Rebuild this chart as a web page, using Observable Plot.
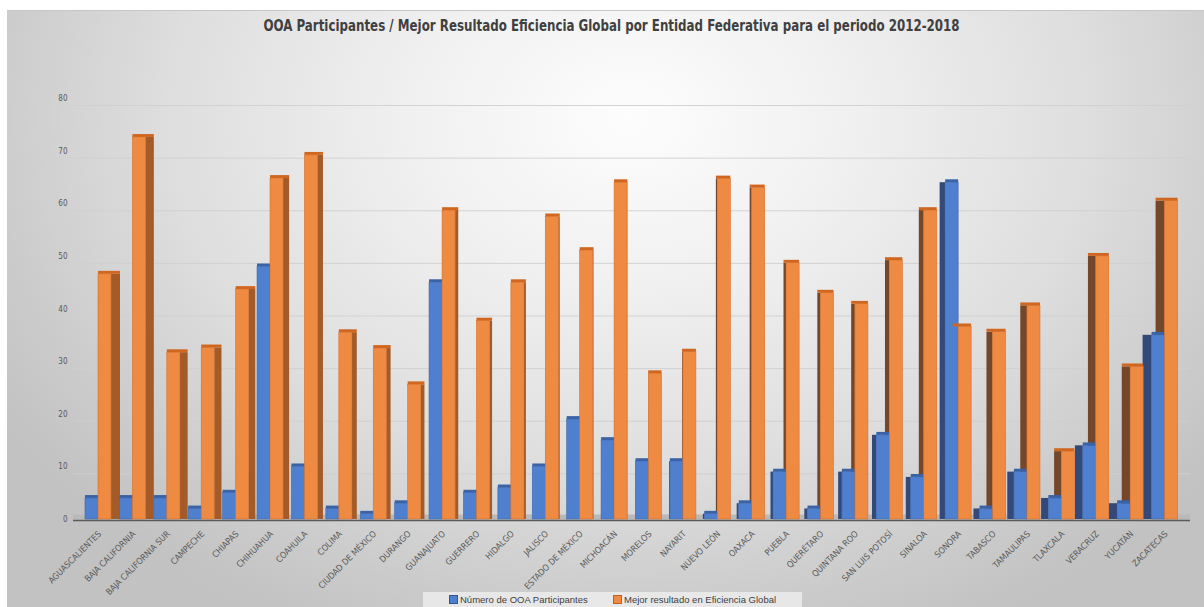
<!DOCTYPE html>
<html>
<head>
<meta charset="utf-8">
<script src="https://cdn.jsdelivr.net/npm/d3@7"></script>
<script src="https://cdn.jsdelivr.net/npm/@observablehq/plot@0.6"></script>
<style>
html, body { margin: 0; padding: 0; background: #fff; }
#wrap { position: relative; width: 1204px; height: 607px; overflow: hidden; background: #fff; }
#panel { position: absolute; left: 7px; top: 10px; width: 1197px; height: 597px; border-top: 1px solid #c6c6c6;
  background: radial-gradient(ellipse 62% 95% at 52% 18%, #fdfdfd 0%, #f0f0f0 30%, #dedede 62%, #cacaca 88%, #c2c2c2 100%); }
#title { position: absolute; left: 0; top: 17px; width: 1224px; text-align: center; }
#title span { display: inline-block; transform: scaleX(0.85); transform-origin: 50% 50%; white-space: nowrap;
  font-family: "DejaVu Sans Condensed", "Liberation Sans", sans-serif; font-weight: bold; font-size: 15.5px; color: #404040; }
#chart { position: absolute; left: 0; top: 60px; }
#legend { position: absolute; left: 423px; top: 592px; width: 379px; height: 15px; background: rgba(236,236,236,0.85);
  font-family: "Liberation Sans", sans-serif; font-size: 9.5px; color: #404040; }
#legend .item { position: absolute; top: 2px; white-space: nowrap; }
#legend .sw { display: inline-block; width: 7px; height: 7px; margin-right: 2px; vertical-align: -0.5px; }
</style>
</head>
<body>
<div id="wrap">
  <div id="panel"></div>
  <div id="title"><span>OOA Participantes / Mejor Resultado Eficiencia Global por Entidad Federativa para el periodo 2012-2018</span></div>
  <div id="chart"></div>
  <div id="legend"></div>
</div>
<script>
const states = ["AGUASCALIENTES","BAJA CALIFORNIA","BAJA CALIFORNIA SUR","CAMPECHE","CHIAPAS","CHIHUAHUA","COAHUILA","COLIMA","CIUDAD DE MÉXICO","DURANGO","GUANAJUATO","GUERRERO","HIDALGO","JALISCO","ESTADO DE MÉXICO","MICHOACÁN","MORELOS","NAYARIT","NUEVO LEÓN","OAXACA","PUEBLA","QUERÉTARO","QUINTANA ROO","SAN LUIS POTOSÍ","SINALOA","SONORA","TABASCO","TAMAULIPAS","TLAXCALA","VERACRUZ","YUCATÁN","ZACATECAS"];
const participantes = [4, 4, 4, 2, 5, 48, 10, 2, 1, 3, 45, 5, 6, 10, 19, 15, 11, 11, 1, 3, 9, 2, 9, 16, 8, 64, 2, 9, 4, 14, 3, 35];
const eficiencia = [46.6, 72.6, 31.7, 32.6, 43.7, 64.8, 69.2, 35.5, 32.5, 25.6, 58.7, 37.7, 45.0, 57.5, 51.1, 64.0, 27.7, 31.8, 64.7, 63.0, 48.7, 43.0, 40.9, 49.2, 58.7, 36.6, 35.6, 40.6, 12.9, 50.0, 29.0, 60.5];
const yTicks = [0, 10, 20, 30, 40, 50, 60, 70, 80];
const seriesNames = ["Número de OOA Participantes", "Mejor resultado en Eficiencia Global"];
const seriesColors = ["#4f7fcf", "#ef8a42"];

// derived table
const rows = states.map((s, i) => ({ i, s, b: participantes[i], o: eficiencia[i], t: (i - 15.5) / 15.5 }));
const idx = states.map((s, i) => i);
const U = 1 / 34.4;             // one pixel in band units
const SIDE = 9 * U;             // max depth of side face
const sideW = d => SIDE * Math.abs(d.t);
const B0 = -0.326, B1 = 0.052, O1 = 0.43;   // bar faces in band units
const TOP = 0.55;

const chart = Plot.plot({
  width: 1204,
  height: 540,
  marginLeft: 73,
  marginRight: 14,
  marginTop: 38,
  marginBottom: 81,
  style: { background: "transparent", color: "#595959", fontFamily: "'DejaVu Sans Condensed', sans-serif" },
  x: { domain: [-0.5, 31.5], range: [79, 1180], label: null },
  y: { domain: [0, 80], label: null },
  marks: [
    Plot.ruleY(yTicks.filter(v => v > 0), { stroke: "#cfcfcf", strokeOpacity: 0.9, dy: 7 }),
    Plot.ruleY([0], { stroke: "#b9b9b9", strokeWidth: 5, dy: -2.5 }),
    // orange side faces
    Plot.rect(rows, {
      x1: d => d.t < 0 ? d.i + O1 : d.i + B1 - sideW(d),
      x2: d => d.t < 0 ? d.i + O1 + sideW(d) : d.i + B1,
      y1: 0, y2: d => d.o,
      fill: d => d.t < 0 ? "#a35b2a" : "#74462a"
    }),
    // blue side faces (visible on the right half)
    Plot.rect(rows.filter(d => d.t > 0), {
      x1: d => d.i + B0 - sideW(d), x2: d => d.i + B0,
      y1: 0, y2: d => d.b, fill: "#33497a"
    }),
    // blue front
    Plot.rect(rows, {
      x1: d => d.i + B0, x2: d => d.i + B1, y1: 0, y2: d => d.b,
      fill: seriesColors[0], stroke: "#3f68b0", strokeWidth: 0.6
    }),
    Plot.rect(rows, {
      x1: d => d.i + B0, x2: d => d.i + B1 + (d.t < 0 ? sideW(d) * 0.6 : 0), y1: d => d.b, y2: d => d.b + TOP,
      fill: "#3a62a6"
    }),
    // orange front
    Plot.rect(rows, {
      x1: d => d.i + B1, x2: d => d.i + O1, y1: 0, y2: d => d.o,
      fill: seriesColors[1], stroke: "#d8702a", strokeWidth: 0.6
    }),
    Plot.rect(rows, {
      x1: d => d.i + B1 + (d.t > 0 ? -sideW(d) : 0), x2: d => d.i + O1 + (d.t < 0 ? sideW(d) : 0), y1: d => d.o, y2: d => d.o + TOP,
      fill: "#d0661f"
    }),
    Plot.ruleY([0], { stroke: "#5a5a5a", strokeWidth: 1.6, dy: 1 }),
    Plot.axisY(yTicks, { tickSize: 0, tickPadding: 6, fontSize: 8, anchor: "left" }),
    Plot.axisX(idx, { tickFormat: i => states[i], tickRotate: -45, tickSize: 0, tickPadding: 13, fontSize: 8.7, dx: 3, anchor: "bottom" })
  ]
});
document.getElementById("chart").appendChild(chart);

const legend = document.getElementById("legend");
const lx = [26, 190];
seriesNames.forEach((n, k) => {
  const it = document.createElement("div");
  it.className = "item";
  it.style.left = lx[k] + "px";
  it.innerHTML = `<span class="sw" style="background:${seriesColors[k]};border:0.5px solid ${k ? '#c65f1c' : '#2f5597'}"></span>${n}`;
  legend.appendChild(it);
});
</script>
</body>
</html>
